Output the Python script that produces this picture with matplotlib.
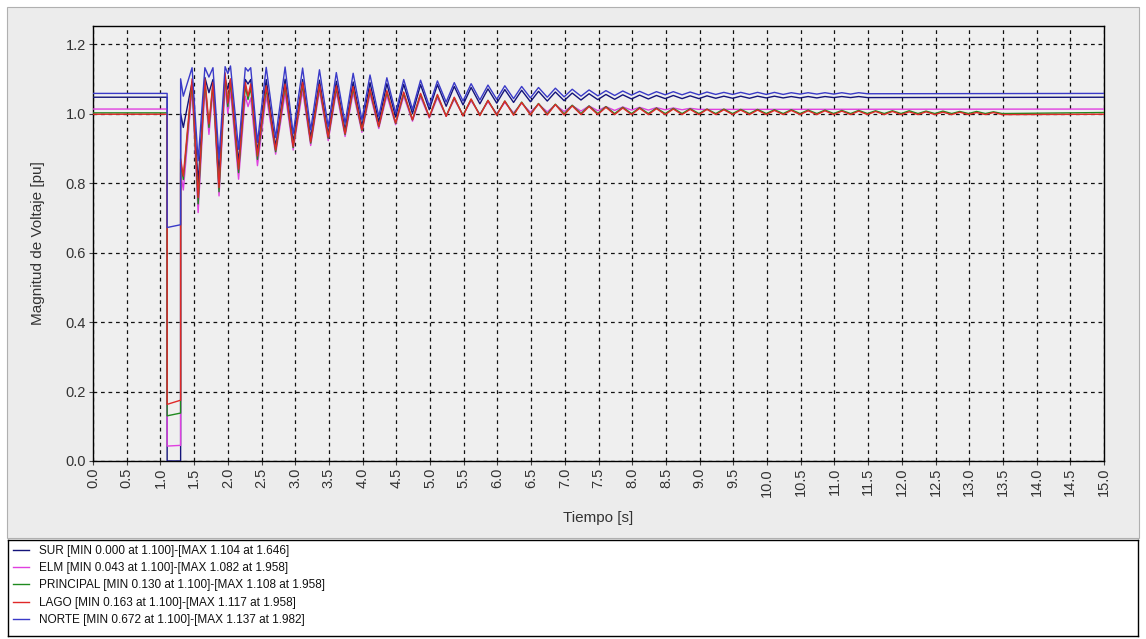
import matplotlib
matplotlib.use("Agg")
import matplotlib.pyplot as plt
from matplotlib import font_manager
from matplotlib.lines import Line2D
from matplotlib.patches import Rectangle

# ---------------- data ----------------
series_names = ["SUR", "ELM", "PRINCIPAL", "LAGO", "NORTE"]
legend_labels = [
    "SUR [MIN 0.000 at 1.100]-[MAX 1.104 at 1.646]",
    "ELM [MIN 0.043 at 1.100]-[MAX 1.082 at 1.958]",
    "PRINCIPAL [MIN 0.130 at 1.100]-[MAX 1.108 at 1.958]",
    "LAGO [MIN 0.163 at 1.100]-[MAX 1.117 at 1.958]",
    "NORTE [MIN 0.672 at 1.100]-[MAX 1.137 at 1.982]",
]
colors = ["#14147a", "#e040e0", "#1f8a1f", "#e02828", "#3a3ac8"]

t_fault_on = 1.1
t_fault_off = 1.3

pre_fault = [1.047, 1.013, 1.002, 0.998, 1.058]
fault_start = [0.000, 0.043, 0.130, 0.163, 0.672]
fault_end = [0.000, 0.045, 0.138, 0.175, 0.680]
steady = [1.047, 1.013, 1.003, 0.998, 1.058]

# early post-fault swing (shared times)
early_t = [1.30, 1.34, 1.47, 1.56, 1.66, 1.72, 1.78, 1.87, 1.96, 2.00,
           2.04, 2.16, 2.26, 2.30, 2.34, 2.44]
sur_early = [1.000, 0.960, 1.090, 0.800, 1.104, 1.060, 1.098, 0.825, 1.100, 1.070,
             1.098, 0.860, 1.098, 1.085, 1.098, 0.888]
elm_early = [0.830, 0.780, 1.070, 0.715, 1.075, 0.940, 1.065, 0.763, 1.082, 1.000,
             1.065, 0.811, 1.050, 1.020, 1.045, 0.850]
principal_early = [0.860, 0.810, 1.090, 0.740, 1.095, 0.960, 1.085, 0.775, 1.108, 1.020,
                   1.090, 0.830, 1.080, 1.040, 1.075, 0.868]
lago_early = [0.870, 0.820, 1.100, 0.758, 1.100, 0.970, 1.090, 0.787, 1.117, 1.030,
              1.100, 0.840, 1.090, 1.050, 1.085, 0.878]
norte_early = [1.100, 1.050, 1.132, 0.864, 1.132, 1.105, 1.132, 0.872, 1.135, 1.115,
               1.137, 0.897, 1.132, 1.122, 1.132, 0.917]

# later oscillation: peak / trough times
peak_t = [2.57, 2.85, 3.11, 3.36, 3.61, 3.86, 4.11, 4.36, 4.61, 4.86,
          5.11, 5.36, 5.61, 5.86, 6.11, 6.36, 6.61, 6.86, 7.11, 7.36,
          7.61, 7.86, 8.11, 8.36, 8.61, 8.86, 9.11, 9.36, 9.61, 9.86,
          10.11, 10.36, 10.61, 10.86, 11.11, 11.36, 11.61, 11.86, 12.11, 12.36,
          12.61, 12.86, 13.11, 13.36]
trough_t = [2.71, 2.97, 3.23, 3.49, 3.74, 3.99, 4.24, 4.49, 4.74, 4.99,
            5.24, 5.49, 5.74, 5.99, 6.24, 6.49, 6.74, 6.99, 7.24, 7.49,
            7.74, 7.99, 8.24, 8.49, 8.74, 8.99, 9.24, 9.49, 9.74, 9.99,
            10.24, 10.49, 10.74, 10.99, 11.24, 11.49, 11.74, 11.99, 12.24, 12.49,
            12.74, 12.99, 13.24, 13.49]

norte_pk = [1.133, 1.134, 1.131, 1.126, 1.118, 1.116, 1.111, 1.103, 1.098, 1.096,
            1.094, 1.089, 1.086, 1.082, 1.080, 1.078, 1.075, 1.073, 1.070, 1.068,
            1.066, 1.065, 1.064, 1.063, 1.063, 1.062, 1.062, 1.061, 1.061, 1.061,
            1.061, 1.060, 1.060, 1.060, 1.060, 1.060]
norte_tr = [0.931, 0.942, 0.953, 0.962, 0.972, 0.982, 0.992, 1.002, 1.012, 1.022,
            1.033, 1.036, 1.039, 1.041, 1.043, 1.045, 1.047, 1.048, 1.050, 1.051,
            1.052, 1.053, 1.053, 1.054, 1.054, 1.054, 1.055, 1.055, 1.055, 1.055,
            1.055, 1.056, 1.056, 1.056, 1.056, 1.057]

sur_pk = [1.098, 1.099, 1.098, 1.096, 1.093, 1.091, 1.089, 1.086, 1.084, 1.083,
          1.083, 1.078, 1.075, 1.071, 1.069, 1.067, 1.064, 1.062, 1.059, 1.057,
          1.055, 1.054, 1.053, 1.052, 1.052, 1.051, 1.051, 1.050, 1.050, 1.050,
          1.050, 1.049, 1.049, 1.049, 1.049, 1.049]
sur_tr = [0.905, 0.918, 0.930, 0.940, 0.952, 0.963, 0.976, 0.990, 1.000, 1.011,
          1.021, 1.025, 1.028, 1.030, 1.032, 1.034, 1.036, 1.037, 1.039, 1.040,
          1.041, 1.042, 1.042, 1.043, 1.043, 1.043, 1.044, 1.044, 1.044, 1.045,
          1.045, 1.045, 1.045, 1.046, 1.046, 1.046]

lago_pk = [1.080, 1.085, 1.090, 1.084, 1.080, 1.078, 1.071, 1.066, 1.062, 1.058,
           1.055, 1.047, 1.042, 1.038, 1.036, 1.032, 1.028, 1.026, 1.022, 1.020,
           1.018, 1.016, 1.015, 1.014, 1.013, 1.012, 1.012, 1.011, 1.010, 1.010,
           1.009, 1.009, 1.008, 1.008, 1.007, 1.007, 1.006, 1.006, 1.005, 1.005,
           1.004, 1.004, 1.003, 1.003]
lago_tr = [0.895, 0.905, 0.918, 0.932, 0.942, 0.953, 0.963, 0.973, 0.982, 0.990,
           0.992, 0.993, 0.994, 0.995, 0.995, 0.996, 0.996, 0.996, 0.997, 0.997,
           0.997, 0.997, 0.997, 0.997, 0.997, 0.997, 0.997, 0.997, 0.997, 0.997,
           0.997, 0.997, 0.997, 0.997, 0.997, 0.997, 0.997, 0.997, 0.997, 0.997,
           0.997, 0.997, 0.997, 0.997]

principal_pk = [1.072, 1.078, 1.083, 1.078, 1.074, 1.072, 1.066, 1.062, 1.058, 1.055,
                1.052, 1.045, 1.041, 1.038, 1.036, 1.033, 1.029, 1.027, 1.024, 1.022,
                1.020, 1.018, 1.017, 1.016, 1.015, 1.014, 1.013, 1.013, 1.012, 1.012,
                1.011, 1.011, 1.010, 1.010, 1.009, 1.009, 1.008, 1.008, 1.008, 1.007,
                1.007, 1.006, 1.006, 1.005]
principal_tr = [0.890, 0.902, 0.915, 0.929, 0.940, 0.951, 0.962, 0.972, 0.982, 0.990,
                0.993, 0.995, 0.996, 0.997, 0.998, 0.998, 0.999, 0.999, 1.000, 1.000,
                1.000, 1.000, 1.000, 1.000, 1.000, 1.000, 1.000, 1.000, 1.000, 1.000,
                1.000, 1.000, 1.000, 1.000, 1.000, 1.000, 1.000, 1.000, 1.000, 1.000,
                1.000, 1.000, 1.000, 1.000]

elm_pk = [1.051, 1.058, 1.066, 1.066, 1.062, 1.060, 1.056, 1.052, 1.050, 1.048,
          1.046, 1.041, 1.037, 1.034, 1.032, 1.030, 1.027, 1.025, 1.023, 1.022,
          1.020, 1.019, 1.018, 1.017, 1.016, 1.015]
elm_tr = [0.883, 0.895, 0.908, 0.922, 0.934, 0.946, 0.957, 0.968, 0.978, 0.987,
          0.992, 0.995, 0.998, 1.000, 1.002, 1.004, 1.005, 1.006, 1.007, 1.008,
          1.009, 1.010, 1.010, 1.011, 1.011, 1.012]

early_vals = [sur_early, elm_early, principal_early, lago_early, norte_early]
peak_vals = [sur_pk, elm_pk, principal_pk, lago_pk, norte_pk]
trough_vals = [sur_tr, elm_tr, principal_tr, lago_tr, norte_tr]

x_ticks = [i * 0.5 for i in range(31)]
x_ticklabels = [f"{v:.1f}" for v in x_ticks]
y_ticks = [0.0, 0.2, 0.4, 0.6, 0.8, 1.0, 1.2]
y_ticklabels = [f"{v:.1f}" for v in y_ticks]

# ---------------- style ----------------
avail = {f.name for f in font_manager.fontManager.ttflist}
fam = [f for f in ["Liberation Sans Narrow", "Liberation Sans", "DejaVu Sans"] if f in avail]
plt.rcParams["font.family"] = fam

W, H = 1146, 639
fig = plt.figure(figsize=(W / 100, H / 100), dpi=100, facecolor="white")

# gray panel behind plot
panel = Rectangle((7 / W, 1 - 538 / H), (1139 - 7) / W, (538 - 7) / H,
                  transform=fig.transFigure, facecolor="#ececec",
                  edgecolor="#b0b0b0", linewidth=0.8, zorder=-10)
fig.patches.append(panel)

ax = fig.add_axes([93 / W, 1 - 461 / H, (1104 - 93) / W, (461 - 26) / H])
ax.set_zorder(2)
ax.set_facecolor("#efefef")

for i in range(5):
    tt = [0.0, t_fault_on, t_fault_on, t_fault_off] + list(early_t)
    vv = [pre_fault[i], pre_fault[i], fault_start[i], fault_end[i]] + list(early_vals[i])
    for pt, pv, tr_t, tr_v in zip(peak_t, peak_vals[i], trough_t, trough_vals[i]):
        tt += [pt, tr_t]
        vv += [pv, tr_v]
    tt.append(15.0)
    vv.append(steady[i])
    ax.plot(tt, vv, color=colors[i], linewidth=1.0, zorder=3)

ax.set_xlim(0, 15)
ax.set_ylim(0, 1.252)
ax.set_xticks(x_ticks)
ax.set_xticklabels(x_ticklabels, rotation=90, fontsize=10.5, color="#333333")
ax.set_yticks(y_ticks)
ax.set_yticklabels(y_ticklabels, fontsize=10.5, color="#333333")
ax.tick_params(axis="both", length=3, width=0.8, color="#444444", pad=2)
ax.grid(True, color="#111111", linestyle=(0, (3, 3)), linewidth=0.9, zorder=1)
for s in ax.spines.values():
    s.set_color("#000000")
    s.set_linewidth(1.0)

ax.set_xlabel("Tiempo [s]", fontsize=11, color="#333333")
ax.xaxis.set_label_coords(0.5, -0.116)
ax.set_ylabel("Magnitud de Voltaje [pu]", fontsize=11, color="#333333")
ax.yaxis.set_label_coords(-0.047, 0.5)

# legend box
lax = fig.add_axes([8 / W, 1 - 636 / H, (1138 - 8) / W, (636 - 540) / H])
lax.set_zorder(2)
lax.set_facecolor("white")
lax.set_xticks([])
lax.set_yticks([])
for s in lax.spines.values():
    s.set_color("#000000")
    s.set_linewidth(1.0)
handles = [Line2D([], [], color=c, linewidth=1.0) for c in colors]
leg = lax.legend(handles, legend_labels, loc="upper left", frameon=False,
                 fontsize=8.5, handlelength=1.4, handletextpad=0.8,
                 labelspacing=0.45, borderaxespad=0.1, borderpad=0.3)
for txt in leg.get_texts():
    txt.set_color("#111111")

fig.savefig("out.png", dpi=100, facecolor="white")
